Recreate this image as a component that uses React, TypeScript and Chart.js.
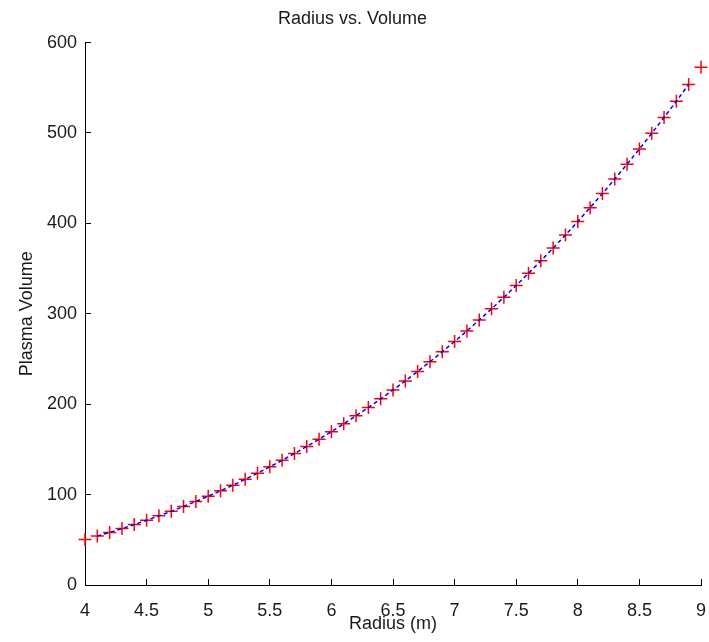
import React, { useEffect, useRef } from "react";
import { Chart, registerables } from "chart.js";

Chart.register(...registerables);

const radius = [
  4.0, 4.1, 4.2, 4.3, 4.4, 4.5, 4.6, 4.7, 4.8, 4.9,
  5.0, 5.1, 5.2, 5.3, 5.4, 5.5, 5.6, 5.7, 5.8, 5.9,
  6.0, 6.1, 6.2, 6.3, 6.4, 6.5, 6.6, 6.7, 6.8, 6.9,
  7.0, 7.1, 7.2, 7.3, 7.4, 7.5, 7.6, 7.7, 7.8, 7.9,
  8.0, 8.1, 8.2, 8.3, 8.4, 8.5, 8.6, 8.7, 8.8, 8.9,
  9.0,
];

const plasmaVolume = [
  50.3, 54.1, 58.2, 62.4, 66.9, 71.6, 76.5, 81.5, 86.9, 92.4,
  98.2, 104.2, 110.4, 116.9, 123.7, 130.7, 137.9, 145.5, 153.2, 161.3,
  169.6, 178.3, 187.2, 196.4, 205.9, 215.7, 225.8, 236.2, 247.0, 258.0,
  269.4, 281.1, 293.2, 305.5, 318.3, 331.3, 344.8, 358.6, 372.7, 387.2,
  402.1, 417.4, 433.0, 449.1, 465.5, 482.3, 499.6, 517.2, 535.2, 553.7,
  572.6,
];

const fitRadius = radius.slice(1, radius.length - 1);
const fitVolume = plasmaVolume.slice(1, plasmaVolume.length - 1);

const yTicks = [0, 100, 200, 300, 400, 500, 600];
const xTicks = [4, 4.5, 5, 5.5, 6, 6.5, 7, 7.5, 8, 8.5, 9];

const FONT = "'Liberation Sans', Arial, Helvetica, sans-serif";
const TEXT = "#1a1a1a";

export default function App() {
  const ref = useRef<HTMLCanvasElement | null>(null);

  useEffect(() => {
    if (!ref.current) return;
    const chart = new Chart(ref.current, {
      type: "scatter",
      data: {
        datasets: [
          {
            label: "fit",
            data: fitRadius.map((x, i) => ({ x, y: fitVolume[i] })),
            showLine: true,
            borderColor: "#0000ff",
            borderWidth: 1.5,
            borderDash: [4, 3],
            pointRadius: 0,
            fill: false,
            clip: false,
            order: 0,
          },
          {
            label: "data",
            data: radius.map((x, i) => ({ x, y: plasmaVolume[i] })),
            showLine: false,
            pointStyle: "cross",
            pointRadius: 6.5,
            pointBorderColor: "#ff0000",
            pointBorderWidth: 1.5,
            borderColor: "#ff0000",
            clip: false,
            order: 1,
          },
        ],
      },
      options: {
        responsive: false,
        animation: false,
        layout: { padding: { left: 0, right: 4, top: 0, bottom: 0 } },
        plugins: {
          legend: { display: false },
          tooltip: { enabled: false },
          title: {
            display: true,
            text: "Radius vs. Volume",
            color: TEXT,
            font: { family: FONT, size: 18, weight: "normal" },
            padding: { top: 8, bottom: 13 },
          },
        },
        scales: {
          x: {
            type: "linear",
            min: 4,
            max: 9,
            afterBuildTicks: (s: any) => {
              s.ticks = xTicks.map((v) => ({ value: v }));
            },
            afterFit: (s: any) => {
              s.height = 57;
              s.paddingRight = 0;
              s.paddingLeft = 0;
            },
            ticks: {
              color: TEXT,
              font: { family: FONT, size: 18 },
              padding: 21,
              maxRotation: 0,
              autoSkip: false,
              callback: (v: any) => String(Number(v)),
            },
            grid: {
              drawOnChartArea: false,
              drawTicks: true,
              tickLength: -6,
              color: "#000",
              lineWidth: 1,
            },
            border: { display: true, color: "#000", width: 1 },
            title: {
              display: true,
              text: "Radius (m)",
              color: TEXT,
              font: { family: FONT, size: 18 },
              padding: { top: 0, bottom: 7 },
            },
          },
          y: {
            type: "linear",
            min: 0,
            max: 600,
            afterBuildTicks: (s: any) => {
              s.ticks = yTicks.map((v) => ({ value: v }));
            },
            afterFit: (s: any) => {
              s.width = 85;
            },
            ticks: {
              color: TEXT,
              font: { family: FONT, size: 18 },
              padding: 14,
              autoSkip: false,
            },
            grid: {
              drawOnChartArea: false,
              drawTicks: true,
              tickLength: -6,
              color: "#000",
              lineWidth: 1,
            },
            border: { display: true, color: "#000", width: 1 },
            title: {
              display: true,
              text: "Plasma Volume",
              color: TEXT,
              font: { family: FONT, size: 18 },
              padding: { top: 16, bottom: 0 },
            },
          },
        },
      },
    } as any);
    return () => chart.destroy();
  }, []);

  return (
    <div style={{ position: "absolute", left: 0, top: 0, width: 709, height: 642, background: "#fff" }}>
      <canvas ref={ref} width={709} height={642} style={{ display: "block" }} />
    </div>
  );
}
